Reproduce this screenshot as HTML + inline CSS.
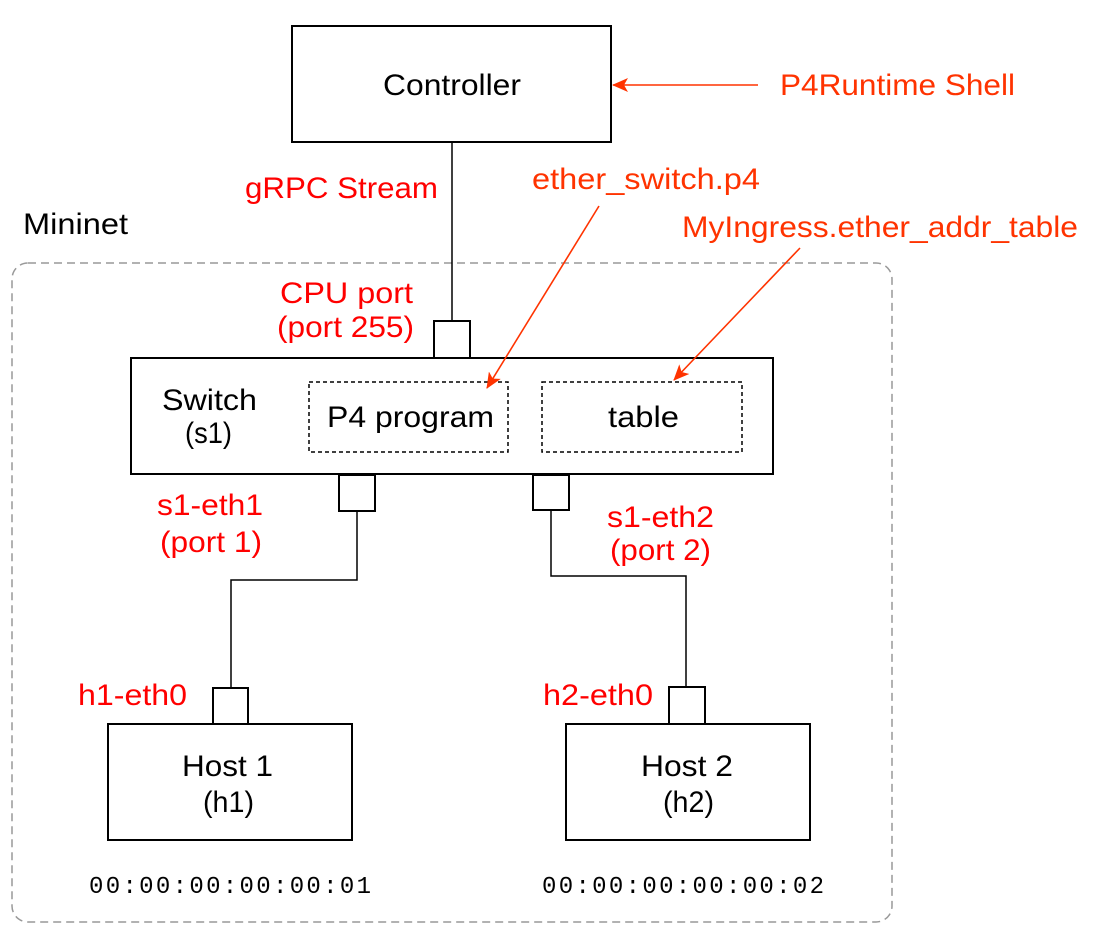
<!DOCTYPE html>
<html><head><meta charset="utf-8"><style>html,body{margin:0;padding:0;background:#fff}</style></head>
<body>
<svg width="1098" height="938" xmlns="http://www.w3.org/2000/svg" font-family="Liberation Sans, sans-serif">
<defs>
<marker id="a" markerWidth="16" markerHeight="14" refX="15" refY="7" orient="auto" markerUnits="userSpaceOnUse" viewBox="0 0 16 14">
<path d="M0,0 L16,7 L0,14 L4,7 z" fill="#ff3300"/></marker>
</defs>
<rect x="12" y="263" width="880" height="659" rx="16" fill="none" stroke="#999" stroke-width="1.5" stroke-dasharray="8,5"/>
<rect x="292" y="26" width="319" height="116" fill="#fff" stroke="#000" stroke-width="2"/>
<line x1="452" y1="142" x2="452" y2="321" stroke="#000" stroke-width="1.5"/>
<rect x="434" y="321" width="36" height="37" fill="#fff" stroke="#000" stroke-width="2"/>
<rect x="131" y="358" width="642" height="116" fill="#fff" stroke="#000" stroke-width="2"/>
<rect x="309" y="382" width="199" height="70" fill="none" stroke="#000" stroke-width="1.5" stroke-dasharray="4,3"/>
<rect x="542" y="382" width="200" height="70" fill="none" stroke="#000" stroke-width="1.5" stroke-dasharray="4,3"/>
<rect x="339" y="475" width="36" height="36" fill="#fff" stroke="#000" stroke-width="2"/>
<rect x="533" y="475" width="36" height="35" fill="#fff" stroke="#000" stroke-width="2"/>
<polyline points="357,511 357,580 231,580 231,688" fill="none" stroke="#000" stroke-width="1.5"/>
<polyline points="551,510 551,576 686,576 686,687" fill="none" stroke="#000" stroke-width="1.5"/>
<rect x="213" y="688" width="35" height="36" fill="#fff" stroke="#000" stroke-width="2"/>
<rect x="669" y="687" width="36" height="37" fill="#fff" stroke="#000" stroke-width="2"/>
<rect x="108" y="724" width="244" height="116" fill="#fff" stroke="#000" stroke-width="2"/>
<rect x="566" y="724" width="244" height="116" fill="#fff" stroke="#000" stroke-width="2"/>
<g font-size="30">
<text x="383" y="95" textLength="138" lengthAdjust="spacingAndGlyphs">Controller</text>
<text x="162" y="410" textLength="95" lengthAdjust="spacingAndGlyphs">Switch</text>
<text x="185" y="443" textLength="47" lengthAdjust="spacingAndGlyphs">(s1)</text>
<text x="327" y="427" textLength="167" lengthAdjust="spacingAndGlyphs">P4 program</text>
<text x="608" y="427" textLength="71" lengthAdjust="spacingAndGlyphs">table</text>
<text x="182" y="776" textLength="91" lengthAdjust="spacingAndGlyphs">Host 1</text>
<text x="203" y="812" textLength="51" lengthAdjust="spacingAndGlyphs">(h1)</text>
<text x="641" y="776" textLength="92" lengthAdjust="spacingAndGlyphs">Host 2</text>
<text x="663" y="812" textLength="51" lengthAdjust="spacingAndGlyphs">(h2)</text>
<text x="23" y="234" textLength="105" lengthAdjust="spacingAndGlyphs">Mininet</text>
</g>
<text x="89" y="893" font-size="24" font-family="Liberation Mono, monospace" textLength="282" lengthAdjust="spacing">00:00:00:00:00:01</text>
<text x="542" y="893" font-size="24" font-family="Liberation Mono, monospace" textLength="282" lengthAdjust="spacing">00:00:00:00:00:02</text>
<g fill="#ff0000" font-size="30">
<text x="245" y="198" textLength="193" lengthAdjust="spacingAndGlyphs">gRPC Stream</text>
<text x="280" y="303" textLength="133" lengthAdjust="spacingAndGlyphs">CPU port</text>
<text x="277" y="337" textLength="137" lengthAdjust="spacingAndGlyphs">(port 255)</text>
<text x="157" y="515" textLength="106" lengthAdjust="spacingAndGlyphs">s1-eth1</text>
<text x="160" y="552" textLength="102" lengthAdjust="spacingAndGlyphs">(port 1)</text>
<text x="607" y="527" textLength="107" lengthAdjust="spacingAndGlyphs">s1-eth2</text>
<text x="610" y="560" textLength="101" lengthAdjust="spacingAndGlyphs">(port 2)</text>
<text x="78" y="705" textLength="109" lengthAdjust="spacingAndGlyphs">h1-eth0</text>
<text x="543" y="705" textLength="110" lengthAdjust="spacingAndGlyphs">h2-eth0</text>
</g>
<g fill="#ff3300" font-size="30">
<text x="780" y="95" textLength="235" lengthAdjust="spacingAndGlyphs">P4Runtime Shell</text>
<text x="532" y="189" textLength="228" lengthAdjust="spacingAndGlyphs">ether_switch.p4</text>
<text x="682" y="237" textLength="396" lengthAdjust="spacingAndGlyphs">MyIngress.ether_addr_table</text>
</g>
<g stroke="#ff3300" stroke-width="1.6" fill="none">
<line x1="758" y1="85" x2="613" y2="85" marker-end="url(#a)"/>
<line x1="599" y1="206" x2="487" y2="388" marker-end="url(#a)"/>
<line x1="800" y1="248" x2="674" y2="380" marker-end="url(#a)"/>
</g>
</svg>
</body></html>
